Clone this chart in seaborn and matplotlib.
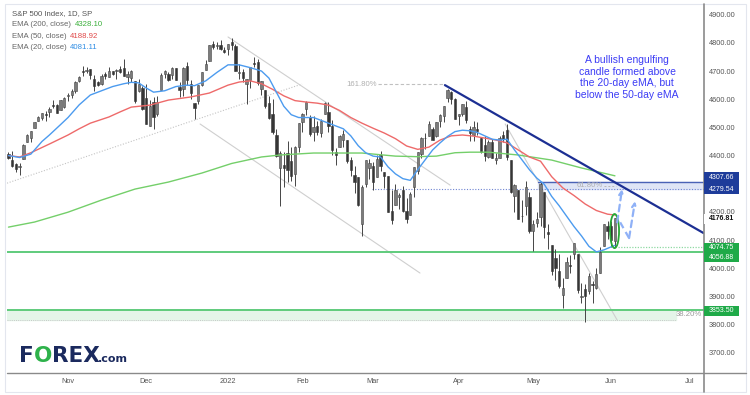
import numpy as np
import pandas as pd
import matplotlib
matplotlib.use("Agg")
import matplotlib.pyplot as plt
from matplotlib.lines import Line2D
from matplotlib.patches import Ellipse, Rectangle
import seaborn as sns

# S&P 500 daily candles, 8 Oct 2021 -> 2 Jun 2022
dates = (["2021-10-%02d" % d for d in [8, 11, 12, 13, 14, 15, 18, 19, 20, 21, 22, 25, 26, 27, 28, 29]]
         + ["2021-11-%02d" % d for d in [1, 2, 3, 4, 5, 8, 9, 10, 11, 12, 15, 16, 17, 18, 19, 22, 23, 24, 26, 29, 30]]
         + ["2021-12-%02d" % d for d in [1, 2, 3, 6, 7, 8, 9, 10, 13, 14, 15, 16, 17, 20, 21, 22, 23, 27, 28, 29, 30, 31]]
         + ["2022-01-%02d" % d for d in [3, 4, 5, 6, 7, 10, 11, 12, 13, 14, 18, 19, 20, 21, 24, 25, 26, 27, 28, 31]]
         + ["2022-02-%02d" % d for d in [1, 2, 3, 4, 7, 8, 9, 10, 11, 14, 15, 16, 17, 18, 22, 23, 24, 25, 28]]
         + ["2022-03-%02d" % d for d in [1, 2, 3, 4, 7, 8, 9, 10, 11, 14, 15, 16, 17, 18, 21, 22, 23, 24, 25, 28, 29, 30, 31]]
         + ["2022-04-%02d" % d for d in [1, 4, 5, 6, 7, 8, 11, 12, 13, 14, 18, 19, 20, 21, 22, 25, 26, 27, 28, 29]]
         + ["2022-05-%02d" % d for d in [2, 3, 4, 5, 6, 9, 10, 11, 12, 13, 16, 17, 18, 19, 20, 23, 24, 25, 26, 27, 31]]
         + ["2022-06-%02d" % d for d in [1, 2]])

opens = [4406.5, 4385.4, 4368.3, 4358.0, 4386.8, 4447.7, 4463.7, 4497.3, 4524.4, 4532.2, 4546.1, 4553.7, 4578.7, 4580.2, 4562.8, 4572.9,
         4610.6, 4613.3, 4630.7, 4662.9, 4699.3, 4701.5, 4707.3, 4670.3, 4659.4, 4655.2, 4689.3, 4679.4, 4701.5, 4700.7, 4708.6, 4712.0, 4678.5, 4675.8, 4664.6, 4628.8, 4640.3,
         4602.8, 4504.7, 4589.5, 4548.4, 4632.0, 4690.9, 4691.0, 4687.6, 4710.3, 4642.0, 4636.5, 4719.1, 4652.5, 4587.9, 4595.0, 4650.4, 4704.0, 4734.0, 4795.5, 4788.6, 4794.2, 4775.2,
         4778.1, 4804.5, 4788.0, 4693.4, 4697.7, 4655.3, 4669.1, 4728.6, 4733.6, 4638.0, 4632.2, 4588.0, 4547.4, 4471.4, 4356.3, 4366.6, 4408.4, 4380.6, 4336.2, 4431.8,
         4519.6, 4566.4, 4535.4, 4482.8, 4505.8, 4480.0, 4547.0, 4553.2, 4506.3, 4412.6, 4429.3, 4455.8, 4456.1, 4385.6, 4332.7, 4324.9, 4155.8, 4298.4, 4354.2,
         4363.1, 4322.6, 4401.3, 4342.1, 4327.0, 4202.7, 4223.1, 4252.6, 4279.5, 4202.8, 4188.8, 4288.1, 4345.1, 4407.3, 4462.4, 4469.1, 4493.1, 4470.0, 4522.7, 4541.1, 4602.9, 4624.2, 4599.0,
         4540.3, 4548.0, 4572.5, 4494.2, 4474.7, 4494.2, 4462.6, 4437.6, 4394.3, 4449.1, 4385.6, 4390.6, 4472.3, 4489.2, 4385.8, 4255.3, 4278.1, 4186.5, 4222.6, 4253.8,
         4130.6, 4159.8, 4181.2, 4270.4, 4128.2, 4081.3, 4035.2, 3990.1, 3904.0, 3963.9, 4013.0, 4052.0, 4052.0, 3899.0, 3927.8, 3919.4, 3942.9, 3929.6, 3984.6, 4077.4, 4151.1,
         4149.8, 4095.4]

highs = [4412.0, 4415.9, 4374.9, 4372.9, 4439.7, 4475.8, 4488.8, 4520.4, 4540.9, 4551.4, 4559.7, 4572.6, 4598.5, 4584.6, 4597.6, 4608.1,
         4620.3, 4635.2, 4663.5, 4683.0, 4718.5, 4714.9, 4708.5, 4684.9, 4664.6, 4688.5, 4697.4, 4714.9, 4701.5, 4708.8, 4717.8, 4743.8, 4699.4, 4702.9, 4664.6, 4672.9, 4646.0,
         4652.9, 4595.5, 4608.0, 4612.6, 4694.0, 4705.1, 4695.3, 4713.6, 4710.3, 4660.5, 4712.6, 4732.0, 4666.7, 4587.9, 4651.1, 4697.7, 4740.7, 4791.5, 4807.0, 4804.1, 4808.9, 4786.8,
         4796.6, 4818.6, 4797.7, 4725.0, 4708.0, 4673.0, 4714.1, 4749.0, 4744.1, 4665.1, 4632.2, 4611.6, 4602.1, 4494.5, 4417.4, 4411.0, 4453.2, 4428.7, 4432.7, 4516.9,
         4550.5, 4595.3, 4542.9, 4539.7, 4521.9, 4531.3, 4590.0, 4588.9, 4526.3, 4426.2, 4472.8, 4490.0, 4456.1, 4394.8, 4362.1, 4324.9, 4294.7, 4385.3, 4388.8,
         4378.5, 4401.5, 4416.8, 4342.1, 4327.0, 4276.9, 4299.4, 4268.3, 4291.0, 4247.6, 4271.1, 4358.0, 4412.7, 4465.4, 4481.8, 4522.0, 4501.1, 4520.6, 4546.0, 4575.6, 4637.3, 4627.8, 4603.1,
         4548.7, 4583.5, 4593.5, 4503.9, 4521.2, 4520.4, 4464.4, 4471.0, 4453.9, 4460.5, 4410.3, 4471.0, 4488.3, 4512.9, 4385.8, 4299.0, 4278.1, 4240.7, 4308.5, 4269.7,
         4169.8, 4200.1, 4307.7, 4270.4, 4157.7, 4081.3, 4068.8, 4049.1, 3964.8, 4038.9, 4046.5, 4090.7, 4052.0, 3946.0, 3943.4, 3981.9, 3955.7, 3999.3, 4075.1, 4158.5, 4168.3,
         4166.5, 4177.5]

lows = [4386.2, 4360.6, 4342.1, 4329.9, 4386.8, 4447.7, 4447.5, 4496.4, 4524.4, 4526.9, 4524.0, 4537.4, 4569.2, 4551.7, 4562.8, 4567.6,
        4595.1, 4604.7, 4621.2, 4662.6, 4681.3, 4694.4, 4670.9, 4630.9, 4648.3, 4650.4, 4672.9, 4679.4, 4684.4, 4672.8, 4694.2, 4682.2, 4652.7, 4659.9, 4585.4, 4625.3, 4560.0,
        4510.3, 4504.7, 4495.1, 4540.5, 4632.0, 4674.5, 4666.0, 4670.2, 4667.6, 4606.5, 4611.2, 4651.9, 4600.2, 4531.1, 4583.2, 4645.5, 4704.0, 4734.0, 4780.0, 4778.1, 4775.3, 4765.8,
        4758.2, 4774.3, 4699.4, 4671.3, 4662.7, 4582.2, 4638.3, 4716.1, 4650.3, 4614.8, 4568.7, 4530.2, 4478.0, 4395.3, 4222.6, 4287.1, 4304.8, 4309.5, 4292.5, 4414.0,
        4483.5, 4544.3, 4470.4, 4451.5, 4471.5, 4465.4, 4547.0, 4484.3, 4401.4, 4364.8, 4429.3, 4429.0, 4373.8, 4327.2, 4267.1, 4221.5, 4114.7, 4286.8, 4315.1,
        4279.5, 4322.6, 4345.6, 4285.0, 4199.9, 4157.9, 4223.1, 4209.8, 4200.5, 4161.7, 4187.9, 4252.0, 4335.7, 4390.6, 4424.3, 4469.1, 4455.8, 4465.2, 4501.1, 4517.7, 4589.7, 4581.3, 4530.4,
        4507.6, 4539.2, 4514.2, 4450.0, 4450.3, 4474.6, 4408.4, 4381.3, 4392.7, 4390.8, 4370.3, 4390.6, 4448.8, 4384.5, 4267.6, 4200.8, 4175.0, 4162.9, 4188.6, 4124.3,
        4062.5, 4147.1, 4148.9, 4106.0, 4067.9, 3975.5, 3958.2, 3928.8, 3858.9, 3963.9, 3984.0, 4033.9, 3911.9, 3876.6, 3810.3, 3909.0, 3875.1, 3925.0, 3984.6, 4077.4, 4104.9,
        4073.9, 4074.4]

closes = [4391.3, 4361.2, 4350.7, 4363.8, 4438.3, 4471.4, 4486.5, 4519.6, 4536.2, 4549.8, 4544.9, 4566.5, 4574.8, 4551.7, 4596.4, 4605.4,
          4613.7, 4630.7, 4660.6, 4680.1, 4697.5, 4701.7, 4685.3, 4646.7, 4649.3, 4682.9, 4682.8, 4700.9, 4688.7, 4704.5, 4698.0, 4682.9, 4690.7, 4701.5, 4594.6, 4655.3, 4567.0,
          4513.0, 4577.1, 4538.4, 4591.7, 4686.8, 4701.2, 4667.5, 4712.0, 4669.0, 4634.1, 4709.9, 4668.7, 4620.6, 4568.0, 4649.2, 4696.6, 4725.8, 4791.2, 4786.4, 4793.1, 4778.7, 4766.2,
          4796.6, 4793.5, 4700.6, 4696.1, 4677.0, 4670.3, 4713.1, 4726.4, 4659.0, 4662.9, 4577.1, 4532.8, 4482.7, 4397.9, 4410.1, 4356.5, 4349.9, 4326.5, 4431.9, 4515.6,
          4546.5, 4589.4, 4477.4, 4500.5, 4483.9, 4521.5, 4587.2, 4504.1, 4418.6, 4401.7, 4471.1, 4475.0, 4380.3, 4348.9, 4304.8, 4225.5, 4288.7, 4384.7, 4373.9,
          4306.3, 4386.5, 4363.5, 4328.9, 4201.1, 4170.7, 4277.9, 4259.5, 4204.3, 4173.1, 4262.5, 4357.9, 4411.7, 4463.1, 4461.2, 4511.6, 4456.2, 4520.2, 4543.1, 4575.5, 4631.6, 4602.5, 4530.4,
          4545.9, 4582.6, 4525.1, 4481.2, 4500.2, 4488.3, 4412.5, 4397.5, 4446.6, 4392.6, 4391.7, 4462.2, 4459.5, 4393.7, 4271.8, 4296.1, 4175.2, 4184.0, 4287.5, 4131.9,
          4155.4, 4175.5, 4300.2, 4146.9, 4123.3, 3991.2, 4001.1, 3935.2, 3930.1, 4023.9, 4008.0, 4088.9, 3923.7, 3900.8, 3901.4, 3973.8, 3941.5, 3978.7, 4057.8, 4158.2, 4132.2,
          4101.2, 4176.8]

# EMA lines (bar position -> value)
ema20_x = [0, 3, 6, 9, 11, 14, 16, 19, 22, 25, 28, 31, 33, 35, 37, 39, 42, 45, 48, 50, 53, 56, 59, 62, 65, 68, 70, 72, 74, 76, 78, 80, 82,
           84, 86, 88, 90, 92, 94, 96, 98, 100, 102, 104, 106, 108, 110, 112, 114, 116, 118, 120, 122, 124, 126, 128, 130, 132, 134, 136,
           138, 140, 142, 144, 146, 148, 150, 152, 154, 156, 158, 160, 162, 163]
ema20_y = [4400, 4393, 4405, 4450, 4473, 4510, 4535, 4580, 4615, 4630, 4645, 4655, 4660, 4658, 4640, 4625, 4630, 4645, 4650, 4648, 4665,
           4695, 4722, 4722, 4712, 4700, 4675, 4625, 4575, 4545, 4535, 4535, 4535, 4525, 4515, 4505, 4495, 4470, 4435, 4410, 4398, 4395,
           4360, 4335, 4318, 4312, 4350, 4385, 4420, 4445, 4468, 4485, 4490, 4488, 4482, 4470, 4458, 4455, 4458, 4420, 4385, 4350, 4320,
           4298, 4255, 4222, 4185, 4148, 4115, 4078, 4058, 4065, 4076, 4081.11]
ema50_x = [0, 3, 6, 11, 16, 19, 22, 27, 30, 33, 38, 43, 49, 54, 59, 62, 65, 68, 71, 74, 77, 80, 83, 86, 89, 92, 95, 98, 101, 104, 107,
           110, 113, 116, 119, 122, 125, 128, 131, 134, 137, 140, 143, 146, 149, 152, 155, 158, 161, 163]
ema50_y = [4400, 4395, 4410, 4441, 4473, 4495, 4515, 4537, 4555, 4572, 4579, 4597, 4608, 4622, 4650, 4661, 4665, 4655, 4635, 4612, 4595,
           4590, 4586, 4579, 4560, 4535, 4515, 4497, 4480, 4460, 4434, 4422, 4430, 4455, 4470, 4473, 4469, 4462, 4455, 4445, 4420, 4395,
           4380, 4325, 4285, 4258, 4228, 4205, 4192, 4188.92]
ema200_x = [0, 7, 16, 25, 34, 43, 52, 60, 68, 73, 82, 95, 104, 110, 115, 120, 124, 129, 137, 146, 154, 163]
ema200_y = [4146, 4164, 4199, 4242, 4281, 4306, 4338, 4372, 4395, 4402, 4409, 4409, 4398, 4396, 4398, 4410, 4412, 4412, 4402, 4384,
            4356, 4328.10]

month_pos = [16, 37, 59, 79, 98, 121, 141, 162, 183]
month_labels = ["Nov", "Dec", "2022", "Feb", "Mar", "Apr", "May", "Jun", "Jul"]
price_ticks = list(range(3700, 4901, 100))
hidden_ticks = [4300]  # sits fully under the boxed level labels

# marked levels
res_hi, res_lo = 4307.66, 4279.54
last_close = 4176.81
sup_hi, sup_lo = 4074.75, 4056.88
base_lvl, fib382_lvl = 3853.50, 3815.0
fib1618_lvl = 4654.0

# hand-drawn lines (bar position, price)
trend_x, trend_y = [117.3, 186.8], [4650, 4125]
rise_x, rise_y = [-0.4, 78.9], [4302, 4654]
chan_up_x, chan_up_y = [59.0, 118.7], [4821, 4295]
chan_lo_x, chan_lo_y = [51.5, 110.6], [4512, 3983]
steep_x, steep_y = [133.5, 163.6], [4512, 3816]
arrow1_x, arrow1_y = [163.6, 164.9], [4163, 4281]
arrow2_x, arrow2_y = [164.4, 166.8, 168.4], [4163, 4107, 4238]

W, H = 750, 395

sns.set_theme(style="white")
plt.rcParams['font.family'] = ['Liberation Sans', 'DejaVu Sans']

fig = plt.figure(figsize=(W / 100, H / 100), dpi=100)
ax = fig.add_axes([7 / W, 1 - 372.7 / H, (703.5 - 7) / W, (372.7 - 4) / H])
ax.set_facecolor("white")
for sp in ax.spines.values():
    sp.set_visible(False)

df = pd.DataFrame({"date": dates, "open": opens, "high": highs, "low": lows, "close": closes})
df["pos"] = np.arange(len(df))
up = df["close"] >= df["open"]

# candles
ax.vlines(df["pos"], df["low"], df["high"], color="#454545", lw=0.7, zorder=3)
body_lo = np.minimum(df["open"], df["close"])
body_h = np.maximum((df["close"] - df["open"]).abs(), 2.0)
ax.bar(df["pos"][up], body_h[up], bottom=body_lo[up], width=0.62, color="#7c7c7c",
       edgecolor="#454545", linewidth=0.4, zorder=4)
ax.bar(df["pos"][~up], body_h[~up], bottom=body_lo[~up], width=0.62, color="#363636",
       edgecolor="#363636", linewidth=0.4, zorder=4)

# EMAs
sns.lineplot(x=ema200_x, y=ema200_y, ax=ax, color="#74cf6a", lw=1.0, zorder=5)
sns.lineplot(x=ema50_x, y=ema50_y, ax=ax, color="#ee6a6a", lw=1.0, zorder=5)
sns.lineplot(x=ema20_x, y=ema20_y, ax=ax, color="#4c9bef", lw=1.0, zorder=5)

x_left, x_right = -0.4, 186.8

# channel / helper lines
ax.plot(rise_x, rise_y, color="#c4c4c4", lw=0.8, ls=(0, (1, 1.5)), zorder=2)
ax.plot(chan_up_x, chan_up_y, color="#cfcfcf", lw=0.8, zorder=2)
ax.plot(chan_lo_x, chan_lo_y, color="#cfcfcf", lw=0.8, zorder=2)
ax.plot(steep_x, steep_y, color="#cfcfcf", lw=0.8, zorder=2)

# fib 161.8
ax.plot([99.3, 116.8], [fib1618_lvl] * 2, color="#c0c0c0", lw=0.8, ls=(0, (3, 2)), zorder=2)
ax.text(99.0, fib1618_lvl, "161.80%", ha="right", va="center", fontsize=5.6, color="#b0b0b0")

# fib 61.8 zone
ax.fill_between([142.3, x_right], res_lo, res_hi, color="#dfe5f6", zorder=1)
ax.plot([142.3, x_right], [res_hi] * 2, color="#4a62b6", lw=1.0, zorder=2)
ax.plot([97.7, x_right], [res_lo] * 2, color="#6f84d2", lw=0.8, ls=(0, (1, 1.5)), zorder=2)
ax.text(152.8, (res_hi + res_lo) / 2, "61.80%", ha="left", va="center", fontsize=5.6, color="#b0b0b0")
ax.plot([160.1, 163.3], [(res_hi + res_lo) / 2] * 2, color="#b8b8b8", lw=0.7, ls=(0, (2, 2)), zorder=2)

# support levels
ax.plot([x_left, x_right], [sup_lo] * 2, color="#5fcb7c", lw=1.4, zorder=2)
ax.plot([163.9, x_right], [sup_hi] * 2, color="#8fd9a2", lw=0.9, ls=(0, (1, 1.2)), zorder=2)
ax.fill_between([x_left, 179.4], fib382_lvl, base_lvl, color="#e4f5e9", zorder=1)
ax.plot([x_left, x_right], [base_lvl] * 2, color="#5fcb7c", lw=1.4, zorder=2)
ax.plot([x_left, 179.4], [fib382_lvl] * 2, color="#c8c8c8", lw=0.7, ls=(0, (1, 1.2)), zorder=2)
ax.text(186.4, (base_lvl + fib382_lvl) / 2, "38.20%", ha="right", va="center", fontsize=5.6, color="#9a9a9a")

# main down trendline
ax.plot(trend_x, trend_y, color="#1c2f93", lw=1.6, zorder=6)

# engulfing candle marker + projected path
ax.add_patch(Ellipse((162.9, 4132), 2.4, 121, fill=False, edgecolor="#27a836", lw=1.3, zorder=7))
arrow_kw = dict(arrowstyle="->", color="#8fb1f7", lw=1.6, linestyle=(0, (3, 2)), mutation_scale=7,
                shrinkA=0, shrinkB=0)
ax.annotate("", xy=(arrow1_x[1], arrow1_y[1]), xytext=(arrow1_x[0], arrow1_y[0]), arrowprops=arrow_kw, zorder=7)
ax.plot(arrow2_x[:2], arrow2_y[:2], color="#8fb1f7", lw=1.6, ls=(0, (3, 2)), zorder=7)
ax.annotate("", xy=(arrow2_x[2], arrow2_y[2]), xytext=(arrow2_x[1], arrow2_y[1]), arrowprops=arrow_kw, zorder=7)

ax.text(166.3, 4677, "A bullish engulfing\ncandle formed above\nthe 20-day eMA, but\nbelow the 50-day eMA",
        ha="center", va="center", fontsize=7.5, color="#3c3cf5", zorder=8)

ax.set_xlim(x_left, x_right)
ax.set_ylim(3629.2, 4938.0)
ax.yaxis.tick_right()
ax.set_yticks(price_ticks)
ax.set_yticklabels(["" if v in hidden_ticks else f"{v:.2f}" for v in price_ticks])
ax.set_xticks(month_pos)
ax.set_xticklabels(month_labels)
ax.tick_params(axis="y", length=0, pad=4, labelsize=5.3, labelcolor="#555555")
ax.tick_params(axis="x", length=0, pad=3.6, labelsize=5.3, labelcolor="#555555")
ax.set_xlabel("")
ax.set_ylabel("")


def fx(px):
    return px / W


def fy(py):
    return 1 - py / H


# frame and axis lines
fig.add_artist(Rectangle((fx(5), fy(392)), (746 - 5) / W, (392 - 4) / H, transform=fig.transFigure,
                         fill=False, edgecolor="#e3e6ee", lw=0.8, zorder=1))
fig.add_artist(Line2D([fx(7), fx(746)], [fy(372.7)] * 2, transform=fig.transFigure, color="#8a8a8a", lw=1.0))
fig.add_artist(Line2D([fx(703.5)] * 2, [fy(4), fy(392)], transform=fig.transFigure, color="#8a8a8a", lw=1.2))


# price labels on the right scale
def price_box(y0, y1, fc):
    fig.add_artist(Rectangle((fx(704.2), fy(y1)), 35 / W, (y1 - y0) / H, transform=fig.transFigure,
                             facecolor=fc, edgecolor="none", zorder=5))


def price_label(py, label, color, weight="normal"):
    fig.text(fx(721.5), fy(py), label, ha="center", va="center", fontsize=5.0, color=color,
             fontweight=weight, zorder=6)


price_box(172.0, 194.5, "#1e3c9a")
price_label(177.4, f"{res_hi:.2f}", "white")
price_label(189.2, f"{res_lo:.2f}", "white")
price_box(213.6, 223.6, "white")
price_label(218.6, f"{last_close:.2f}", "#111111", "bold")
price_box(243.2, 262.4, "#1faa48")
price_label(247.6, f"{sup_hi:.2f}", "white")
price_label(257.9, f"{sup_lo:.2f}", "white")
price_box(306.0, 315.5, "#1faa48")
price_label(310.7, f"{base_lvl:.2f}", "white")

renderer = fig.canvas.get_renderer()


def text_run(px, py, parts, gap=0, **kw):
    for s, col in parts:
        t = fig.text(fx(px), fy(py), s, color=col, **kw)
        px += t.get_window_extent(renderer).width + gap


# header legend
fig.text(fx(12), fy(13.3), "S&P 500 Index, 1D, SP", fontsize=5.6, color="#555555", va="center", zorder=8)
text_run(12, 24.5, [("EMA (200, close)", "#666666"), ("4328.10", "#3bb03b")], gap=3.5, fontsize=5.6, va="center", zorder=8)
text_run(12, 36.0, [("EMA (50, close)", "#666666"), ("4188.92", "#e04848")], gap=3.5, fontsize=5.6, va="center", zorder=8)
text_run(12, 47.5, [("EMA (20, close)", "#666666"), ("4081.11", "#2f8de4")], gap=3.5, fontsize=5.6, va="center", zorder=8)

# logo
text_run(19, 362, [("F", "#1b2a5e"), ("O", "#2eb24b"), ("REX", "#1b2a5e")], gap=0, fontsize=15.5,
         fontweight="bold", family="DejaVu Sans", va="baseline", zorder=8)
fig.text(fx(98), fy(362), ".com", color="#1b2a5e", fontsize=8, fontweight="bold", family="DejaVu Sans",
         va="baseline", zorder=8)

fig.savefig("out.png", dpi=100)
